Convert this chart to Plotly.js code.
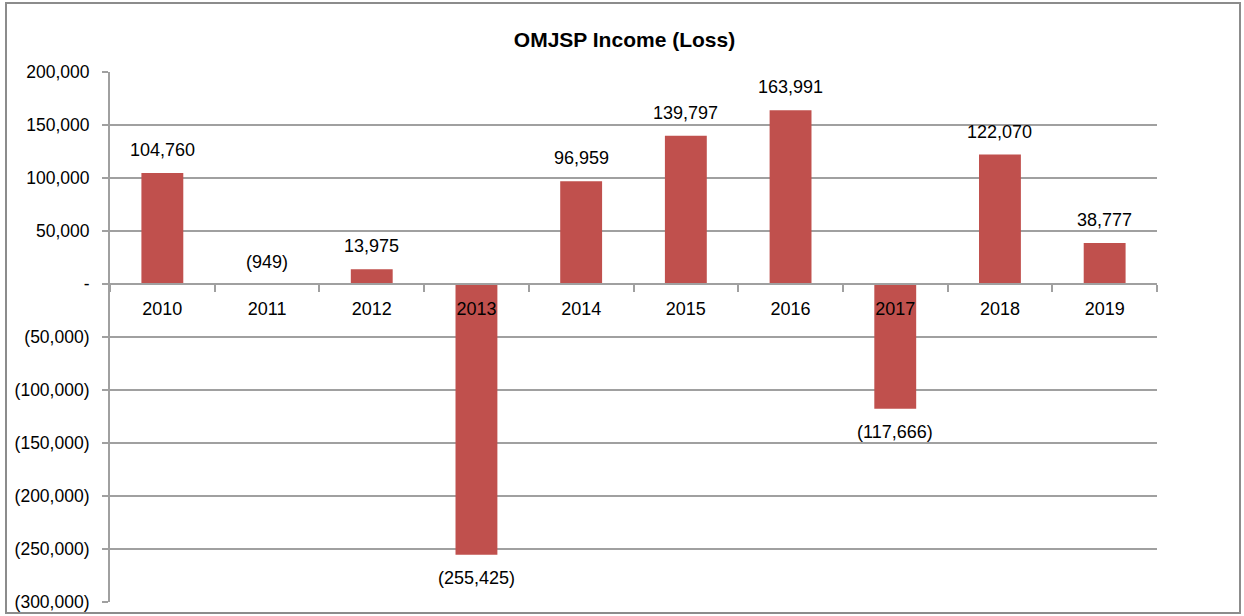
<!DOCTYPE html>
<html>
<head>
<meta charset="utf-8">
<script src="https://cdn.plot.ly/plotly-3.0.1.min.js"></script>
<style>
  html, body { margin: 0; padding: 0; background: #ffffff; }
  #chart { width: 1244px; height: 616px; }
</style>
</head>
<body>
<div id="chart"></div>
<script>
const years = ['2010', '2011', '2012', '2013', '2014', '2015', '2016', '2017', '2018', '2019'];
const income = [104760, -949, 13975, -255425, 96959, 139797, 163991, -117666, 122070, 38777];
const yTickValues = [200000, 150000, 100000, 50000, 0, -50000, -100000, -150000, -200000, -250000, -300000];
const yTickLabels = ['200,000', '150,000', '100,000', '50,000', '-', '(50,000)', '(100,000)', '(150,000)', '(200,000)', '(250,000)', '(300,000)'];

function fmt(v) {
  const s = Math.abs(v).toLocaleString('en-US');
  return v < 0 ? '(' + s + ')' : s;
}

const FONT = '"Liberation Sans", Arial, sans-serif';
const GRID = '#a0a0a0';

const trace = {
  type: 'bar',
  x: years,
  y: income,
  marker: { color: '#C0504D', line: { width: 0 } },
  hoverinfo: 'x+y'
};

const annotations = years.map((yr, i) => {
  const v = income[i];
  const above = v >= -10000;
  return {
    x: i, y: v, xref: 'x', yref: 'y',
    text: fmt(v),
    showarrow: false,
    yanchor: 'middle',
    yshift: above ? 23 : -23,
    font: { family: FONT, size: 18, color: '#000000' }
  };
});

const layout = {
  width: 1244, height: 616,
  margin: { l: 110, r: 87, t: 72, b: 14 },
  paper_bgcolor: '#ffffff',
  plot_bgcolor: '#ffffff',
  showlegend: false,
  bargap: 0.6,
  font: { family: FONT, size: 18, color: '#000000' },
  title: {
    text: '<b>OMJSP Income (Loss)</b>',
    xref: 'container', x: 0.502, y: 0.935, yanchor: 'middle',
    font: { family: FONT, size: 21, color: '#000000' }
  },
  xaxis: {
    type: 'category',
    range: [-0.5, years.length - 0.5],
    autorange: false,
    anchor: 'free', position: 0.6,
    showline: true, linecolor: GRID, linewidth: 2,
    ticks: 'outside', ticklen: 7, tickwidth: 2, tickcolor: GRID,
    tickson: 'boundaries',
    ticklabelstandoff: 8,
    tickangle: 0,
    showgrid: false,
    tickfont: { family: FONT, size: 18, color: '#000000' },
    fixedrange: true
  },
  yaxis: {
    range: [-300000, 200000],
    autorange: false,
    tickvals: yTickValues,
    ticktext: yTickLabels,
    showgrid: true, gridcolor: GRID, gridwidth: 2,
    zeroline: false,
    showline: true, linecolor: GRID, linewidth: 2,
    ticks: 'outside', ticklen: 6, tickwidth: 2, tickcolor: GRID,
    ticklabelstandoff: 9,
    tickfont: { family: FONT, size: 17.5, color: '#000000' },
    fixedrange: true
  },
  annotations: annotations,
  shapes: [{
    type: 'rect', xref: 'paper', yref: 'paper',
    x0: (6 - 110) / 1047, x1: (1240 - 110) / 1047,
    y0: (602 - 613) / 530, y1: (602 - 3) / 530,
    line: { color: '#8c8c8c', width: 2 },
    fillcolor: 'rgba(0,0,0,0)',
    layer: 'below'
  }]
};

Plotly.newPlot('chart', [trace], layout, { displayModeBar: false, staticPlot: true });
</script>
</body>
</html>
